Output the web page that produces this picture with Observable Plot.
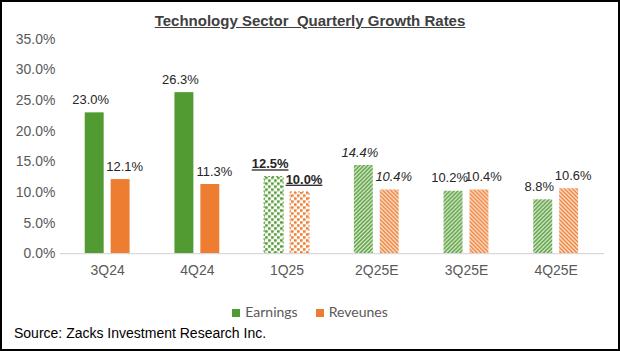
<!DOCTYPE html>
<html><head><meta charset="utf-8">
<script src="https://cdn.jsdelivr.net/npm/d3@7"></script>
<script src="https://cdn.jsdelivr.net/npm/@observablehq/plot@0.6"></script>
<style>
html,body{margin:0;padding:0;background:#fff;}
#frame{position:relative;width:620px;height:351px;box-sizing:border-box;border:2px solid #000;overflow:hidden;font-family:"Liberation Sans",Arial,sans-serif;}
#title{position:absolute;top:10px;left:0;width:616px;text-align:center;font-weight:bold;font-size:15px;color:#404040;text-decoration:underline;white-space:pre;}
#chart{position:absolute;left:-2px;top:-2px;}
#legend{position:absolute;top:301px;left:0;width:616px;text-align:center;font-family:Lato,sans-serif;font-size:14px;color:#595959;}
#legend span.item{margin:0 9px;}
.sw{display:inline-block;width:8px;height:8px;margin-right:5px;vertical-align:0px;}
#source{position:absolute;left:12px;top:323px;font-size:14px;color:#000;}
</style>
</head><body>
<div id="frame">
  <div id="title"></div>
  <div id="chart"></div>
  <div id="legend"></div>
  <div id="source"></div>
</div>
<script>
const title = "Technology Sector  Quarterly Growth Rates";
const source = "Source: Zacks Investment Research Inc.";
const quarters = ["3Q24", "4Q24", "1Q25", "2Q25E", "3Q25E", "4Q25E"];
const earnings = [23.0, 26.3, 12.5, 14.4, 10.2, 8.8];
const revenues = [12.1, 11.3, 10.0, 10.4, 10.4, 10.6];
const fillKinds = ["solid", "solid", "dots", "stripes", "stripes", "stripes"];
const labelKinds = ["normal", "normal", "underline", "italic", "normal", "normal"];
const seriesNames = ["Earnings", "Reveunes"];
const yTicks = [0, 5, 10, 15, 20, 25, 30, 35];
const colors = {Earnings: "#519b32", Reveunes: "#ed7d31"};

const rows = [];
quarters.forEach((q, i) => {
  rows.push({quarter: q, series: "Earnings", value: earnings[i], fill: fillKinds[i], label: labelKinds[i]});
  rows.push({quarter: q, series: "Reveunes", value: revenues[i], fill: fillKinds[i], label: labelKinds[i]});
});

document.getElementById("title").textContent = title;
document.getElementById("source").textContent = source;
const legend = document.getElementById("legend");
seriesNames.forEach(s => {
  const it = document.createElement("span");
  it.className = "item";
  const sw = document.createElement("span");
  sw.className = "sw";
  sw.style.background = colors[s];
  it.appendChild(sw);
  it.appendChild(document.createTextNode(s));
  legend.appendChild(it);
});

const ids = {Earnings: "e", Reveunes: "r"};
const fillFor = (s, k) => k === "solid" ? colors[s] : `url(#${k}-${ids[s]})`;
const offset = s => s === "Earnings" ? -13 : 13;
const labelShift = s => s === "Earnings" ? -4 : 4;
const inset = 34;

const marks = [];
for (const s of seriesNames) {
  for (const k of ["solid", "dots", "stripes"]) {
    marks.push(Plot.barY(rows, {
      filter: d => d.series === s && d.fill === k,
      x: "quarter", y: "value", dx: offset(s),
      insetLeft: inset, insetRight: inset,
      fill: fillFor(s, k),
      stroke: k === "dots" ? colors[s] : "none",
      strokeWidth: 1, strokeDasharray: k === "dots" ? "2,2" : null
    }));
  }
  for (const k of ["normal", "underline", "italic"]) {
    marks.push(Plot.text(rows, {
      filter: d => d.series === s && d.label === k,
      x: "quarter", y: "value", dx: offset(s) + labelShift(s), dy: -13,
      text: d => d.value.toFixed(1) + "%",
      fill: "#262626", fontSize: 13,
      fontWeight: k === "underline" ? "bold" : "normal",
      fontStyle: k === "italic" ? "italic" : "normal"
    }));
  }
}
marks.push(Plot.ruleY([0], {stroke: "#d9d9d9", strokeWidth: 1.2}));

const plot = Plot.plot({
  width: 620, height: 351,
  marginLeft: 60, marginRight: 14, marginTop: 39, marginBottom: 97,
  style: {fontFamily: "'Liberation Sans', Arial, sans-serif", fontSize: "14px", color: "#595959", background: "transparent", overflow: "visible"},
  x: {domain: quarters, padding: 0.03, label: null, tickSize: 0, tickPadding: 11},
  y: {domain: [0, 35], ticks: yTicks, tickFormat: d => d.toFixed(1) + "%", label: null, tickSize: 0, tickPadding: 5},
  marks
});

const svg = d3.select(plot);
svg.selectAll('g[font-weight="bold"] text')
  .attr("text-decoration", "underline")
  .style("text-decoration", "underline");
const defs = svg.insert("defs", ":first-child");
for (const s of seriesNames) {
  const c = colors[s];
  const id = ids[s];
  const dp = defs.append("pattern").attr("id", "dots-" + id).attr("patternUnits", "userSpaceOnUse")
    .attr("width", 6).attr("height", 6);
  dp.append("rect").attr("x", 0).attr("y", 0).attr("width", 2.6).attr("height", 2.6).attr("fill", c);
  dp.append("rect").attr("x", 3).attr("y", 3).attr("width", 2.6).attr("height", 2.6).attr("fill", c);
  const sp = defs.append("pattern").attr("id", "stripes-" + id).attr("patternUnits", "userSpaceOnUse")
    .attr("width", 4).attr("height", 4);
  const path = s === "Earnings"
    ? "M-1,1 l2,-2 M0,4 l4,-4 M3,5 l2,-2"
    : "M-1,3 l2,2 M0,0 l4,4 M3,-1 l2,2";
  sp.append("path").attr("d", path).attr("stroke", c).attr("stroke-width", 1.6).attr("fill", "none");
}
document.getElementById("chart").appendChild(plot);
</script>
</body></html>
